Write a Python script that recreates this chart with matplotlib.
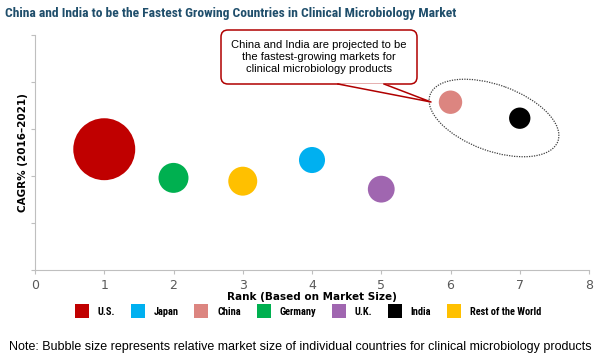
import matplotlib
matplotlib.use('Agg')
import matplotlib.pyplot as plt
from matplotlib.patches import Ellipse, FancyBboxPatch, Polygon
from matplotlib.lines import Line2D

countries = ['U.S.', 'Germany', 'Rest of the World', 'Japan', 'U.K.', 'China', 'India']
rank = [1, 2, 3, 4, 5, 6, 7]
cagr = [2.57, 1.96, 1.89, 2.34, 1.72, 3.57, 3.23]
market_size = [961, 225, 210, 170, 180, 137, 114]
colors = {'U.S.': '#C00000', 'Japan': '#00B0F0', 'China': '#DC8580',
          'Germany': '#00B050', 'U.K.': '#A066B0', 'India': '#000000',
          'Rest of the World': '#FFC000'}
legend_order = ['U.S.', 'Japan', 'China', 'Germany', 'U.K.', 'India', 'Rest of the World']
x_ticks = [0, 1, 2, 3, 4, 5, 6, 7, 8]

narrow = ['Roboto Condensed', 'Roboto', 'DejaVu Sans']

fig = plt.figure(figsize=(6, 3.58), dpi=100)
ax = fig.add_axes([35/600, 1 - 270/358, 554/600, 235/358])

ax.scatter(rank, cagr, s=[m * 2.07 for m in market_size],
           c=[colors[c] for c in countries], linewidths=0, zorder=3)

ax.set_xlim(0, 8)
ax.set_ylim(0, 5)
ax.set_xticks(x_ticks)
ax.set_yticks(range(6))
ax.set_yticklabels([])
for s in ['top', 'right']:
    ax.spines[s].set_visible(False)
for s in ['left', 'bottom']:
    ax.spines[s].set_color('#BFBFBF')
ax.tick_params(axis='both', colors='#BFBFBF', length=3, labelcolor='#595959', labelsize=9)
ax.set_xlabel('Rank (Based on Market Size)', fontsize=7.5, fontweight='bold', labelpad=0)
ax.set_ylabel('CAGR% (2016\u20132021)', fontsize=7.5, fontweight='bold', labelpad=-1.5)

fig.text(5/600, 1 - 13/358, 'China and India to be the Fastest Growing Countries in Clinical Microbiology Market',
         fontsize=9.7, fontweight='bold', color='#1F4E6B', family=narrow, va='center')

handles = [Line2D([], [], marker='s', linestyle='none', markersize=10,
                  markerfacecolor=colors[c], markeredgewidth=0) for c in legend_order]
fig.legend(handles, legend_order, loc='center', bbox_to_anchor=(0.512, 1 - 312/358), ncol=7,
           frameon=False, handletextpad=0.7, columnspacing=1.4, handlelength=1.6,
           prop={'family': narrow, 'weight': 'bold', 'size': 7.5})

fig.text(0.5, 1 - 347/358, 'Note: Bubble size represents relative market size of individual countries for clinical microbiology products',
         fontsize=9, family='Liberation Sans', ha='center', va='center')

# overlay in pixel coordinates for callout and ellipse
ov = fig.add_axes([0, 0, 1, 1], zorder=5)
ov.set_xlim(0, 600)
ov.set_ylim(358, 0)
ov.axis('off')
ov.patch.set_alpha(0)

ov.add_patch(Ellipse((494, 118), 136, 66, angle=20, fill=False, ls=(0, (1, 1)),
                     lw=0.9, ec='#404040'))

box = FancyBboxPatch((221, 30), 196, 54, boxstyle='round,pad=0,rounding_size=7',
                     fc='white', ec='#B00000', lw=1.1)
ov.add_patch(box)
ov.add_patch(Polygon([(338, 83.4), (384, 83.4), (431, 102)], closed=True, fc='white', ec='none', zorder=3))
ov.plot([338, 431, 384], [84, 102, 84], color='#B00000', lw=1.1, zorder=4)
ov.text(319, 57, 'China and India are projected to be\nthe fastest-growing markets for\nclinical microbiology products',
        ha='center', va='center', fontsize=8, family='Liberation Sans', linespacing=1.25)

fig.savefig('out.png', dpi=100)
